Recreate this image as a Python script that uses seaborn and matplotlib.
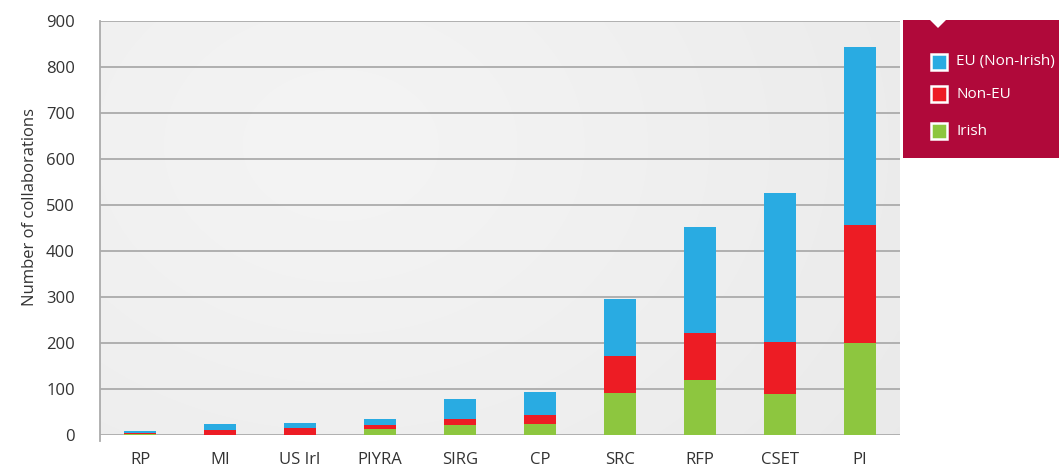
import numpy as np
import pandas as pd
import matplotlib
matplotlib.use("Agg")
import matplotlib.pyplot as plt
import seaborn as sns
from matplotlib.patches import Rectangle, Polygon

categories = ["RP", "MI", "US Irl", "PIYRA", "SIRG", "CP", "SRC", "RFP", "CSET", "PI"]
irish = [3, 0, 0, 12, 22, 23, 91, 120, 89, 199]
non_eu = [1, 11, 16, 9, 13, 21, 81, 102, 114, 258]
eu_non_irish = [5, 13, 11, 14, 43, 49, 124, 231, 323, 386]

blue = "#29ABE2"
red = "#ED1C24"
green = "#8DC63F"
legend_bg = "#B0093A"
grid_col = "#ABABAB"

df = pd.DataFrame({"cat": categories, "irish": irish, "non_eu": non_eu, "eu": eu_non_irish})
df["lvl2"] = df["irish"] + df["non_eu"]
df["total"] = df["lvl2"] + df["eu"]

sns.set_style("white")
plt.rcParams["font.family"] = ["Open Sans", "DejaVu Sans"]

fig = plt.figure(figsize=(10.59, 4.69), dpi=100)
ax = fig.add_axes([100 / 1059, 34 / 469, 800 / 1059, 414 / 469])

# soft gradient background
xx, yy = np.meshgrid(np.linspace(0, 1, 200), np.linspace(0, 1, 100))
d2 = ((xx - 0.3) * 0.9) ** 2 + ((yy - 0.7) * 0.6) ** 2
shade = 0.96 - 0.06 * np.sqrt(d2 + 0.02)
ax.imshow(shade, cmap="gray", vmin=0, vmax=1, extent=[0, 1, 0, 1],
          transform=ax.transAxes, aspect="auto", zorder=0, origin="lower",
          interpolation="bilinear")

for col, c in [("total", blue), ("lvl2", red), ("irish", green)]:
    sns.barplot(data=df, x="cat", y=col, color=c, width=0.4, saturation=1, ax=ax,
                zorder=3, linewidth=0, edgecolor="none")

ax.set_xlim(-0.5, 9.5)
ax.set_ylim(0, 900)
ax.set_yticks(range(0, 901, 100))
ax.yaxis.grid(True, color=grid_col, linewidth=1.3, zorder=1)
ax.set_axisbelow(True)
for s in ["top", "right", "bottom"]:
    ax.spines[s].set_visible(False)
ax.spines["left"].set_color(grid_col)
ax.spines["left"].set_linewidth(1.3)
ax.spines["left"].set_bounds(-12, 900)

ax.set_xlabel("")
ax.set_ylabel("Number of collaborations", fontsize=12, color="#333333")
ax.yaxis.set_label_coords(-0.078, 0.55)
ax.tick_params(axis="y", direction="out", length=7, width=1.2, color=grid_col,
               labelsize=12, labelcolor="#333333", pad=11)
ax.set_xticks(range(len(categories)))
ax.set_xticklabels(categories)
ax.tick_params(axis="x", which="major", length=0, labelsize=12, labelcolor="#333333", pad=12)
ax.set_xticks(np.arange(-0.5, 10, 1), minor=True)
ax.tick_params(axis="x", which="minor", direction="out", length=14, width=1.2, color=grid_col)

# legend box
fig.patches.append(Rectangle((903 / 1059, 1 - 158 / 469), 156 / 1059, 138 / 469,
                             transform=fig.transFigure, facecolor=legend_bg, edgecolor="none"))
fig.patches.append(Polygon([(930 / 1059, 1 - 20 / 469), (946 / 1059, 1 - 20 / 469),
                            (938 / 1059, 1 - 28 / 469)], closed=True,
                           transform=fig.transFigure, facecolor="white", edgecolor="none"))
labels = ["EU (Non-Irish)", "Non-EU", "Irish"]
cols = [blue, red, green]
ys = [62, 94, 131]
for lab, c, y in zip(labels, cols, ys):
    fig.patches.append(Rectangle((931 / 1059, 1 - (y + 8) / 469), 16 / 1059, 16 / 469,
                                 transform=fig.transFigure, facecolor=c, edgecolor="white",
                                 linewidth=1.8))
    fig.text(956 / 1059, 1 - y / 469, lab, color="white", fontsize=11, va="center", ha="left")

fig.savefig("out.png", dpi=100)
